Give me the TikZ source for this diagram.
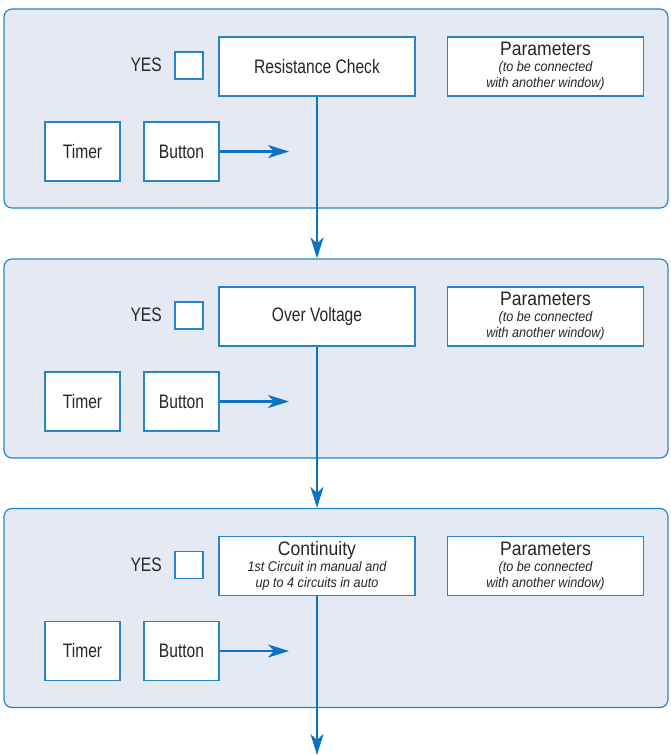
\documentclass[tikz,border=0pt]{standalone}
\usepackage{fontspec}
\setmainfont{Liberation Sans}[FakeStretch=0.8]
\newfontfamily\subfam{Liberation Sans}[FakeStretch=0.9]
\usetikzlibrary{arrows.meta,calc}
\definecolor{bordblue}{RGB}{40,132,200}
\definecolor{arrblue}{RGB}{10,115,195}
\definecolor{panelfill}{RGB}{229,233,244}
\newcommand{\ttl}{\fontsize{19.5}{16}\selectfont}
\newcommand{\sub}{\subfam\fontsize{14}{16}\selectfont\itshape}
\tikzset{
  panel/.style={draw=bordblue, line width=1.2pt, fill=panelfill, rounded corners=8pt,
    minimum width=664pt, minimum height=199pt, inner sep=0pt},
  wbox/.style={draw=bordblue, line width=1.1pt, fill=white, inner sep=0pt, align=center,
    font=\ttl, text=black!85},
  chk/.style={wbox, minimum width=28pt, minimum height=27pt},
  bigbox/.style={wbox, minimum width=196pt, minimum height=59pt},
  twoline/.style={bigbox, font=\sub},
  smallbox/.style={wbox, minimum width=75pt, minimum height=59pt},
  lbl/.style={inner sep=0pt, font=\ttl, text=black!85},
  flow/.style={draw=arrblue, line width=2.6pt, -{Stealth[length=21pt,width=13pt,inset=6pt]}},
}
\begin{document}
\begin{tikzpicture}[x=1pt,y=-1pt]
\useasboundingbox (0,0) rectangle (670,755);
\foreach \i/\dy in {1/0,2/250,3/499.5}{
  \node[panel] (p\i) at (336,108.5+\dy) {};
  \node[chk] (chk\i) at (189,65.5+\dy) {};
  \node[lbl, anchor=east] (yes\i) at (162,65+\dy) {YES};
  \node[smallbox] (timer\i) at (82.5,151.5+\dy) {Timer};
  \node[smallbox] (button\i) at (181.5,151.5+\dy) {Button};
  \node[twoline] (par\i) at (545.5,66.5+\dy) {{\ttl\upshape Parameters}\\ (to be connected\\ with another window)};
  \coordinate (bt\i) at (289,151.5+\dy);
  \draw[flow] (button\i.east) -- (bt\i);
}
\node[bigbox] (main1) at (317,66.5) {Resistance Check};
\node[bigbox] (main2) at (317,316.5) {Over Voltage};
\node[twoline] (main3) at (317,566) {{\ttl\upshape Continuity}\\ 1st Circuit in manual and\\ up to 4 circuits in auto};
\coordinate (end) at (317,755);
\draw[flow] (main1.south) -- (main1.south |- p2.north);
\draw[flow] (main2.south) -- (main2.south |- p3.north);
\draw[flow] (main3.south) -- (end);
\end{tikzpicture}
\end{document}
